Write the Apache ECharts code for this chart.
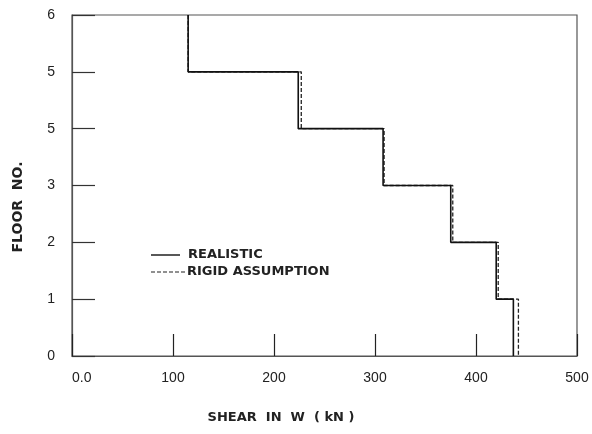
<!DOCTYPE html>
<html>
<head>
<meta charset="utf-8">
<script src="https://cdn.jsdelivr.net/npm/echarts@6/dist/echarts.min.js"></script>
<style>html,body{margin:0;padding:0;background:#fff}#c{width:592px;height:434px}</style>
</head>
<body>
<div id="c"></div>
<script>
// Storey boundaries (floor levels from top to bottom)
const floors = [6, 5, 4, 3, 2, 1, 0];
// Shear value (kN) in each storey, from top storey (6-5) down to (1-0)
const realisticShear = [115, 224, 308, 375, 420, 437];
const rigidShear = [115, 227, 309, 377, 422, 442];
const xTickLabels = ['0.0', '100', '200', '300', '400', '500'];
const yTickLabels = ['0', '1', '2', '3', '5', '5', '6'];
const seriesNames = ['REALISTIC', 'RIGID ASSUMPTION'];

function stepPoints(shear) {
  const pts = [];
  for (let i = 0; i < shear.length; i++) {
    pts.push([shear[i], floors[i]]);
    pts.push([shear[i], floors[i + 1]]);
  }
  return pts;
}

const FONT = '"Liberation Sans", Arial, sans-serif';
const LFONT = '"DejaVu Sans", sans-serif';
const chart = echarts.init(document.getElementById('c'));
chart.setOption({
  animation: false,
  backgroundColor: '#fff',
  grid: { left: 72, right: 15, top: 15, bottom: 78, show: true, borderColor: '#555', borderWidth: 1.2 },
  xAxis: {
    type: 'value', min: 0, max: 500, interval: 100,
    axisLine: { show: true, lineStyle: { color: '#555', width: 1.2 } },
    axisTick: { show: true, inside: true, length: 22, lineStyle: { color: '#222', width: 1.2 } },
    splitLine: { show: false },
    axisLabel: {
      margin: 15, color: '#222', fontFamily: FONT, fontSize: 14, alignMinLabel: 'left',
      formatter: (v) => xTickLabels[Math.round(v / 100)]
    }
  },
  yAxis: {
    type: 'value', min: 0, max: 6, interval: 1,
    axisLine: { show: true, lineStyle: { color: '#555', width: 1.2 } },
    axisTick: { show: true, inside: true, length: 23, lineStyle: { color: '#333', width: 1.2 } },
    splitLine: { show: false },
    axisLabel: {
      margin: 17, color: '#222', fontFamily: FONT, fontSize: 14,
      formatter: (v) => yTickLabels[Math.round(v)]
    }
  },
  graphic: [
    { type: 'text', x: 18, y: 207, rotation: Math.PI / 2, style: { text: 'FLOOR  NO.', font: 'bold 14px ' + LFONT, fill: '#222', textAlign: 'center', textVerticalAlign: 'middle' } },
    { type: 'text', x: 281, y: 418, style: { text: 'SHEAR  IN  W  ( kN )', font: 'bold 13px ' + LFONT, fill: '#222', textAlign: 'center', textVerticalAlign: 'middle' } },
    { type: 'line', shape: { x1: 151, y1: 255, x2: 180, y2: 255 }, style: { stroke: '#111', lineWidth: 1.4 } },
    { type: 'text', x: 188, y: 255, style: { text: seriesNames[0], font: 'bold 13px ' + LFONT, fill: '#222', textVerticalAlign: 'middle' } },
    { type: 'line', shape: { x1: 151, y1: 272, x2: 185, y2: 272 }, style: { stroke: '#222', lineWidth: 1.2, lineDash: [4, 2] } },
    { type: 'text', x: 187, y: 272, style: { text: seriesNames[1], font: 'bold 13px ' + LFONT, fill: '#222', textVerticalAlign: 'middle' } }
  ],
  series: [
    { name: seriesNames[0], type: 'line', data: stepPoints(realisticShear), symbol: 'none',
      lineStyle: { color: '#111', width: 1.6, type: 'solid' }, z: 3 },
    { name: seriesNames[1], type: 'line', data: stepPoints(rigidShear), symbol: 'none',
      lineStyle: { color: '#222', width: 1.3, type: [4, 2] }, z: 2 }
  ]
});
</script>
</body>
</html>
